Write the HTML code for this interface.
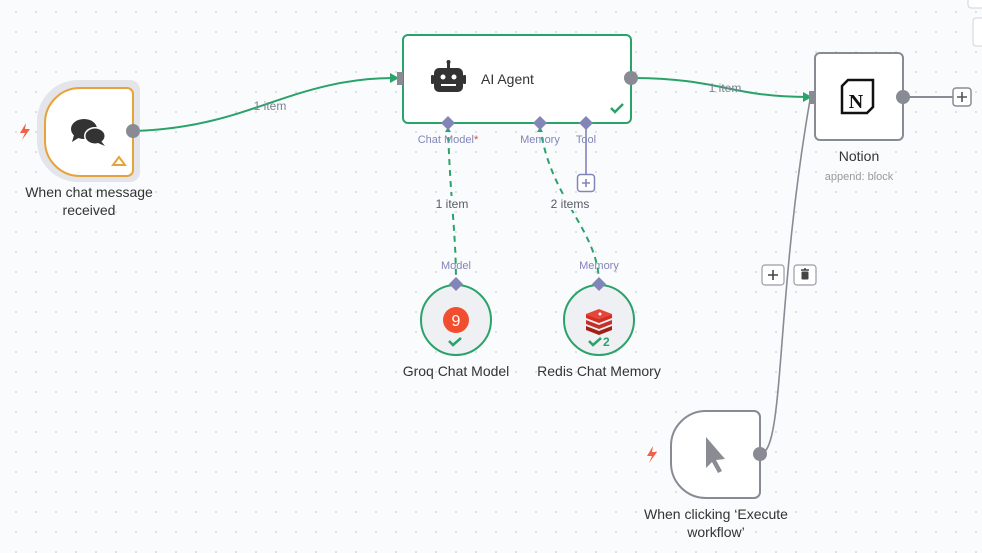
<!DOCTYPE html>
<html><head><meta charset="utf-8"><style>
html,body{margin:0;padding:0;background:#fafbfc;}
svg{display:block;font-family:"Liberation Sans",sans-serif;}
</style></head><body>
<svg width="982" height="553" viewBox="0 0 982 553" xmlns="http://www.w3.org/2000/svg">
<defs>
<pattern id="dots" x="6" y="2" width="20" height="20" patternUnits="userSpaceOnUse">
<circle cx="10" cy="10" r="0.9" fill="#c9ccd3"/></pattern>
</defs>
<rect width="982" height="553" fill="#fafbfc"/>
<rect width="982" height="553" fill="url(#dots)"/>

<!-- top-right partial controls -->
<rect x="968" y="-6" width="20" height="14" rx="3" fill="#fff" stroke="#d0d3da"/>
<rect x="973" y="18" width="20" height="28" rx="3" fill="#fff" stroke="#d0d3da"/>

<!-- connections -->
<path d="M133,131 C250,128 290,78 396,78" fill="none" stroke="#2aa36a" stroke-width="2"/>
<polygon points="390,73 399,78 390,83" fill="#2aa36a"/>
<text x="270" y="110" font-size="12" fill="#7b8190" text-anchor="middle">1 item</text>

<path d="M631,78 C720,78 730,97 808,97" fill="none" stroke="#2aa36a" stroke-width="2"/>
<polygon points="803,92 812,97 803,102" fill="#2aa36a"/>
<text x="725" y="92" font-size="12" fill="#7b8190" text-anchor="middle">1 item</text>

<path d="M903,97 L954,97" stroke="#888b93" stroke-width="2"/>
<rect x="953" y="88" width="18" height="18" rx="3" fill="#fff" stroke="#888b93" stroke-width="1.5"/>
<path d="M962,92v10M957,97h10" stroke="#555" stroke-width="1.6"/>

<path d="M760,454 C785,454 775,300 810,100" fill="none" stroke="#888b93" stroke-width="1.6"/>

<rect x="762" y="265" width="22" height="20" rx="3" fill="#fff" stroke="#9a9ca5" stroke-width="1.2"/>
<path d="M773,270v10M768,275h10" stroke="#444" stroke-width="1.6"/>
<rect x="794" y="265" width="22" height="20" rx="3" fill="#fff" stroke="#9a9ca5" stroke-width="1.2"/>
<path d="M801,270h8M804,269h2" stroke="#444" stroke-width="1.5"/>
<rect x="801.5" y="271.5" width="7" height="8" rx="1" fill="#444"/>

<!-- dashed -->
<path d="M448,126 C450,200 456,230 456,284" fill="none" stroke="#2aa36a" stroke-width="2" stroke-dasharray="6,5"/>
<rect x="432" y="196" width="40" height="14" fill="#fafbfc"/>
<text x="452" y="208" font-size="12" fill="#555b66" text-anchor="middle">1 item</text>
<path d="M540,126 C550,200 599,230 599,284" fill="none" stroke="#2aa36a" stroke-width="2" stroke-dasharray="6,5"/>
<rect x="547" y="196" width="46" height="14" fill="#fafbfc"/>
<text x="570" y="208" font-size="12" fill="#555b66" text-anchor="middle">2 items</text>
<polygon points="448,127 451,132 445,132" fill="#2aa36a"/>
<polygon points="540,127 543,132 537,132" fill="#2aa36a"/>

<!-- tool line -->
<path d="M586,123 V175" stroke="#8285b8" stroke-width="1.6"/>
<rect x="577.5" y="174.5" width="17" height="17" rx="3" fill="#fff" stroke="#8285b8" stroke-width="1.5"/>
<path d="M586,179v8M582,183h8" stroke="#8285b8" stroke-width="1.6"/>

<!-- Chat trigger -->
<path d="M78,80 H130 a10,10 0 0 1 10,10 V172 a10,10 0 0 1 -10,10 H78 a41,41 0 0 1 -41,-41 V121 a41,41 0 0 1 41,-41Z" fill="#e3e5ea"/>
<path d="M80,88 H127 a6,6 0 0 1 6,6 V170 a6,6 0 0 1 -6,6 H80 a35,35 0 0 1 -35,-35 V123 a35,35 0 0 1 35,-35Z" fill="#fff" stroke="#e8a23a" stroke-width="2"/>
<ellipse cx="84" cy="129" rx="13" ry="10" fill="#333"/>
<polygon points="74,135 72,142 80,137" fill="#333"/>
<ellipse cx="95" cy="136" rx="11" ry="9" fill="#fff"/>
<ellipse cx="95" cy="136" rx="9.5" ry="7.5" fill="#333"/>
<polygon points="101,141 105,146 98,143" fill="#333"/>
<polygon points="119,157 113,165 125,165" fill="none" stroke="#e8a23a" stroke-width="2"/>
<circle cx="133" cy="131" r="7" fill="#888b93"/>
<path d="M26,123 L20,133 H25 L22,140 L30,129 H25 Z" fill="#f0604a"/>
<text x="89" y="197" font-size="14" fill="#333" text-anchor="middle">When chat message</text>
<text x="89" y="215" font-size="14" fill="#333" text-anchor="middle">received</text>

<!-- AI Agent -->
<rect x="403" y="35" width="228" height="88" rx="5" fill="#fff" stroke="#2aa36a" stroke-width="2"/>
<rect x="397" y="72" width="6" height="13" fill="#888b93"/>
<circle cx="631" cy="78" r="7" fill="#888b93"/>
<rect x="434" y="68" width="29" height="24" rx="5" fill="#333"/>
<rect x="431" y="75" width="3" height="9" rx="1" fill="#333"/>
<rect x="463" y="75" width="3" height="9" rx="1" fill="#333"/>
<rect x="447" y="62" width="3" height="6" fill="#333"/><circle cx="448.5" cy="62" r="2" fill="#333"/>
<circle cx="443" cy="77" r="2.5" fill="#fff"/><circle cx="454" cy="77" r="2.5" fill="#fff"/>
<rect x="441" y="84" width="15" height="2" fill="#fff"/>
<text x="481" y="84" font-size="14" fill="#333">AI Agent</text>
<path d="M611,108 l4,4 l8,-8" fill="none" stroke="#2aa36a" stroke-width="2.5"/>
<polygon points="448,116 455,123 448,130 441,123" fill="#8285b8"/>
<polygon points="540,116 547,123 540,130 533,123" fill="#8285b8"/>
<polygon points="586,116 593,123 586,130 579,123" fill="#8285b8"/>
<text x="448" y="143" font-size="11" fill="#8285b8" text-anchor="middle">Chat Model<tspan fill="#e0443a">*</tspan></text>
<text x="540" y="143" font-size="11" fill="#8285b8" text-anchor="middle">Memory</text>
<text x="586" y="143" font-size="11" fill="#8285b8" text-anchor="middle">Tool</text>

<!-- Groq -->
<text x="456" y="269" font-size="11" fill="#8285b8" text-anchor="middle">Model</text>
<circle cx="456" cy="320" r="35" fill="#eff0f4" stroke="#2aa36a" stroke-width="2"/>
<polygon points="456,277 463,284 456,291 449,284" fill="#8285b8"/>
<circle cx="456" cy="320" r="13" fill="#f04e2f"/>
<text x="456" y="326" font-size="16" fill="#fff" text-anchor="middle">9</text>
<path d="M449,341 l4,4 l8,-7" fill="none" stroke="#2aa36a" stroke-width="2.5"/>
<text x="456" y="376" font-size="14" fill="#333" text-anchor="middle">Groq Chat Model</text>

<!-- Redis -->
<text x="599" y="269" font-size="11" fill="#8285b8" text-anchor="middle">Memory</text>
<circle cx="599" cy="320" r="35" fill="#eff0f4" stroke="#2aa36a" stroke-width="2"/>
<polygon points="599,277 606,284 599,291 592,284" fill="#8285b8"/>
<path d="M586,326 l13,5 l13,-5 v4 l-13,5 l-13,-5Z" fill="#a41e11"/>
<path d="M586,320 l13,5 l13,-5 v4 l-13,5 l-13,-5Z" fill="#c6302b"/>
<path d="M586,314 l13,5 l13,-5 v4 l-13,5 l-13,-5Z" fill="#d82c20"/>
<path d="M586,314 l13,-5 l13,5 l-13,5Z" fill="#e4463a"/>
<circle cx="600" cy="314" r="1.5" fill="#fff"/>
<path d="M589,341 l4,4 l8,-7" fill="none" stroke="#2aa36a" stroke-width="2.5"/>
<text x="603" y="346" font-size="12" font-weight="bold" fill="#2aa36a">2</text>
<text x="599" y="376" font-size="14" fill="#333" text-anchor="middle">Redis Chat Memory</text>

<!-- Notion -->
<rect x="815" y="53" width="88" height="87" rx="5" fill="#fff" stroke="#888b93" stroke-width="2"/>
<rect x="809" y="91" width="6" height="13" fill="#888b93"/>
<circle cx="903" cy="97" r="7" fill="#888b93"/>
<path d="M842,86 l6,-6 h25 v27 l-6,6 h-25 Z" fill="#fff" stroke="#111" stroke-width="2.5"/>
<text x="856" y="108" font-size="20" font-weight="bold" font-family="Liberation Serif,serif" fill="#111" text-anchor="middle">N</text>
<text x="859" y="161" font-size="14" fill="#333" text-anchor="middle">Notion</text>
<text x="859" y="180" font-size="11" fill="#999" text-anchor="middle">append: block</text>

<!-- Manual trigger -->
<path d="M706,411 H754 a6,6 0 0 1 6,6 V492 a6,6 0 0 1 -6,6 H706 a35,35 0 0 1 -35,-35 V446 a35,35 0 0 1 35,-35Z" fill="#fff" stroke="#888b93" stroke-width="2"/>
<path d="M706,437 V468 L712,462 L718,473 L722,471 L716,460 L725,459 Z" fill="#8a8c93"/>
<circle cx="760" cy="454" r="7" fill="#888b93"/>
<path d="M653,446 L647,456 H652 L649,463 L657,452 H652 Z" fill="#f0604a"/>
<text x="716" y="519" font-size="14" fill="#333" text-anchor="middle">When clicking ‘Execute</text>
<text x="716" y="537" font-size="14" fill="#333" text-anchor="middle">workflow’</text>
</svg>
</body></html>
